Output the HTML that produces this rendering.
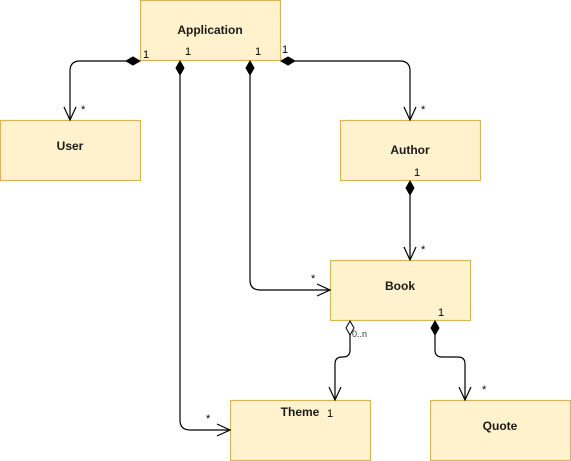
<!DOCTYPE html>
<html><head><style>body{margin:0;background:#fff}svg{display:block}text{font-family:"Liberation Sans",Arial,sans-serif}</style></head><body>
<svg width="571" height="461" viewBox="0 0 571 461" xmlns="http://www.w3.org/2000/svg">
<g fill="#fff2cc" stroke="#d6b656" stroke-width="1.2">
<rect x="140.5" y="0.5" width="140" height="60"/>
<rect x="0.5" y="120.5" width="140" height="60"/>
<rect x="340.5" y="120.5" width="140" height="60"/>
<rect x="330.5" y="260.5" width="140" height="60"/>
<rect x="230.5" y="400.5" width="140" height="60"/>
<rect x="430.5" y="400.5" width="140" height="60"/>
</g>
<g font-size="12" font-weight="bold" fill="#1a1a1a" text-anchor="middle">
<text x="210" y="34">Application</text>
<text x="70" y="150">User</text>
<text x="410" y="154">Author</text>
<text x="400" y="290">Book</text>
<text x="300" y="416">Theme</text>
<text x="500" y="430">Quote</text>
</g>
<g fill="none" stroke="#000" stroke-width="1.2">
<path d="M126 61 H80 Q70 61 70 71 V120"/>
<path d="M180 75 V420 Q180 430 190 430 H230"/>
<path d="M250 75 V280 Q250 290 260 290 H330"/>
<path d="M295 61 H400 Q410 61 410 71 V120"/>
<path d="M410 195 V260"/>
<path d="M350 335 V350 Q350 357 343 357 H342 Q335 357 335 364 V400"/>
<path d="M435 335 V350 Q435 357 442 357 H458 Q465 357 465 364 V400"/>
<path d="M64 107 L70 120 L76 107"/>
<path d="M404 107 L410 120 L416 107"/>
<path d="M404 247 L410 260 L416 247"/>
<path d="M317 284 L330 290 L317 296"/>
<path d="M217 424 L230 430 L217 436"/>
<path d="M329 387 L335 400 L341 387"/>
<path d="M459 387 L465 400 L471 387"/>
</g>
<g fill="#000" stroke="#000">
<path d="M140 61 L133 57 L126 61 L133 65 Z"/>
<path d="M281 61 L288 57 L295 61 L288 65 Z"/>
<path d="M180 61 L184 68 L180 75 L176 68 Z"/>
<path d="M250 61 L254 68 L250 75 L246 68 Z"/>
<path d="M410 181 L414 188 L410 195 L406 188 Z"/>
<path d="M435 321 L439 328 L435 335 L431 328 Z"/>
</g>
<path d="M350 321 L354 328 L350 335 L346 328 Z" fill="#fff" stroke="#000"/>
<g font-size="11" fill="#000">
<text x="143" y="58">1</text>
<text x="185" y="55">1</text>
<text x="255" y="55">1</text>
<text x="282" y="53">1</text>
<text x="81" y="113">*</text>
<text x="421" y="113">*</text>
<text x="421" y="253">*</text>
<text x="311" y="282">*</text>
<text x="206" y="422">*</text>
<text x="482" y="393">*</text>
<text x="414" y="176">1</text>
<text x="438" y="316">1</text>
<text x="327" y="417">1</text>
<text x="352" y="337" font-size="9" fill="#333">0..n</text>
</g>
</svg>
</body></html>
